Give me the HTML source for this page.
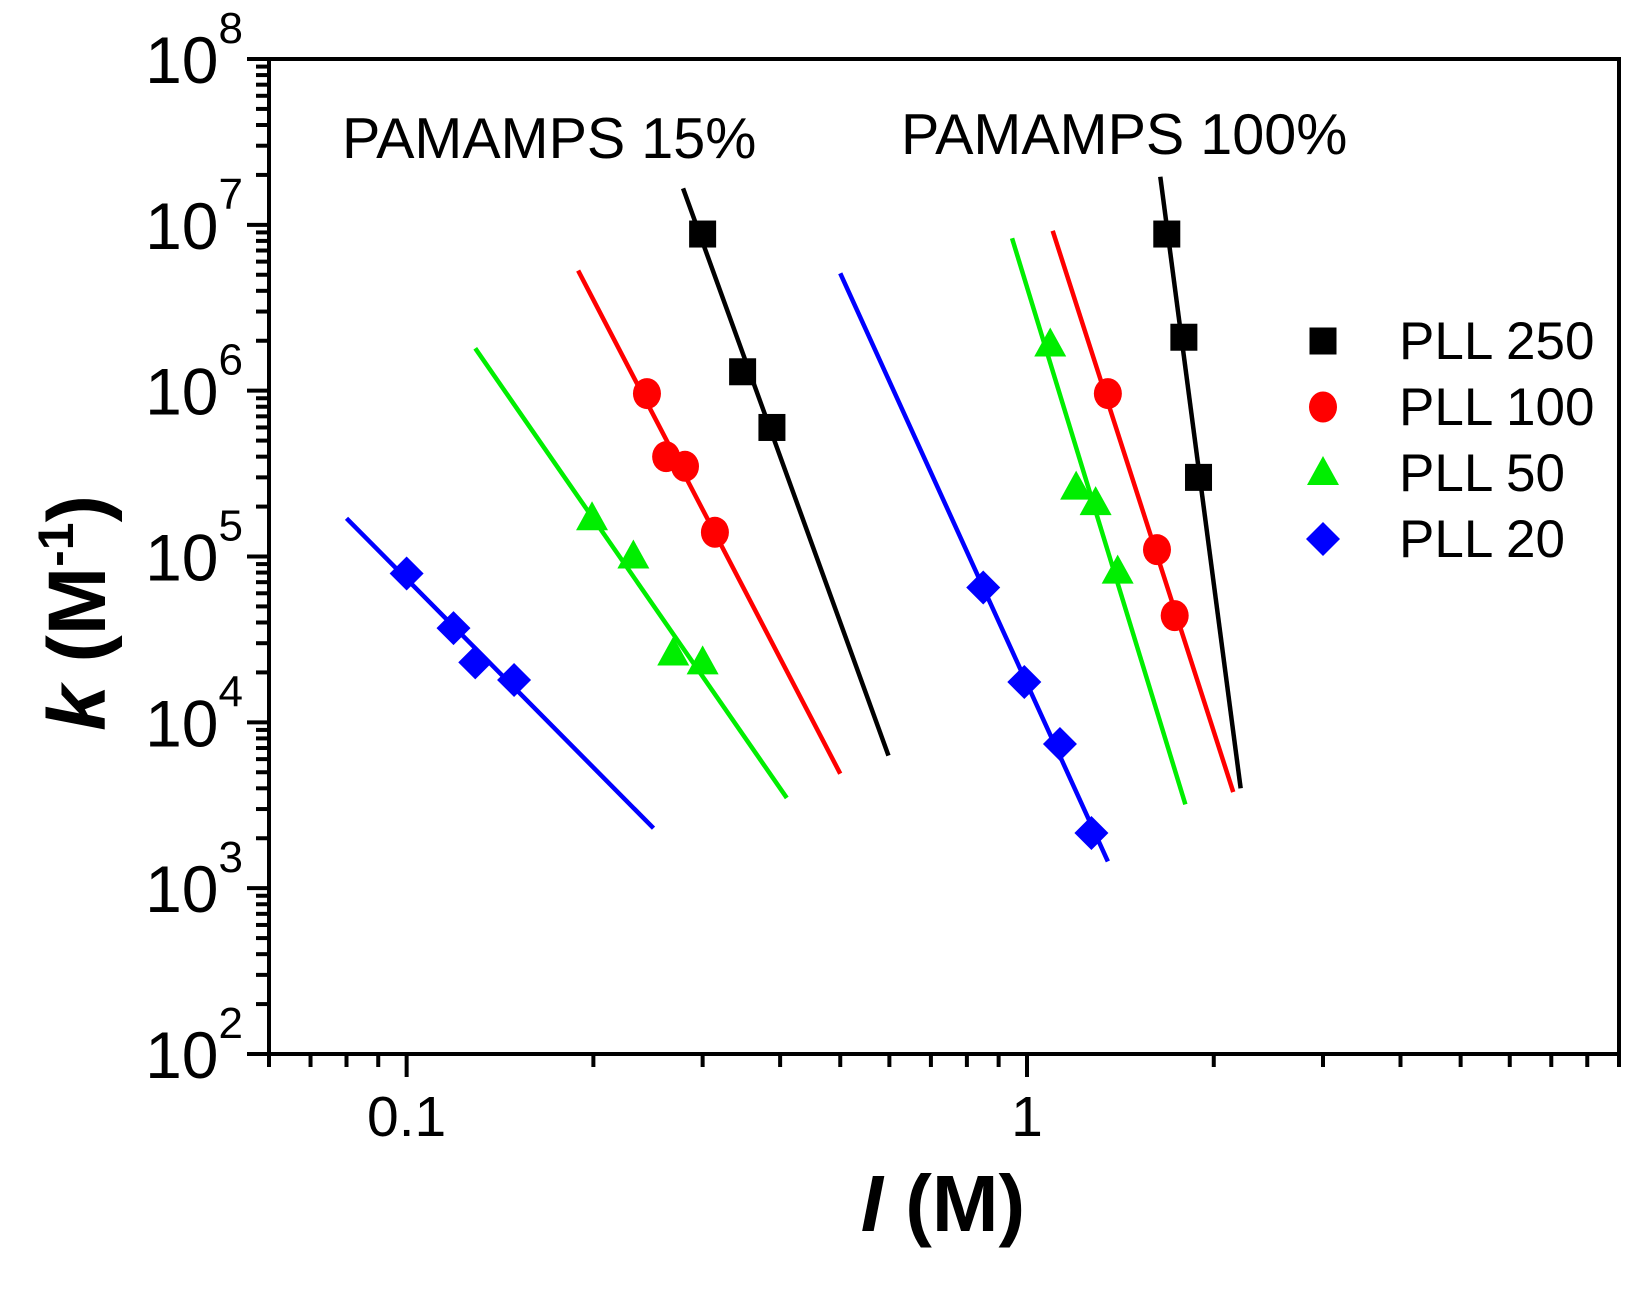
<!DOCTYPE html>
<html><head><meta charset="utf-8">
<style>
html,body{margin:0;padding:0;background:#fff;}
svg{display:block;font-family:"Liberation Sans",Arial,sans-serif;}
</style></head>
<body>
<svg id="chart" width="1634" height="1296" viewBox="0 0 1634 1296" xmlns="http://www.w3.org/2000/svg">
<g id="axes"></g>
<g id="series"></g>
<text x="342" y="158" font-size="57.5">PAMAMPS 15%</text>
<text x="901" y="154" font-size="57.5">PAMAMPS 100%</text>
<text x="943" y="1231" font-size="80" font-weight="bold" text-anchor="middle"><tspan font-style="italic">I</tspan> (M)</text>
<text transform="translate(105,613) rotate(-90)" font-size="82" font-weight="bold" text-anchor="middle"><tspan font-style="italic">k</tspan> (M<tspan font-size="50" dy="-32">-1</tspan><tspan dy="32">)</tspan></text>
<g id="legend"></g>
</svg>
<script>
const NS='http://www.w3.org/2000/svg';
// axis ranges
const xMin=0.06, xMax=9, yMin=1e2, yMax=1e8;
const xMajorTicks=[0.1,1];
const xTickLabels=['0.1','1'];
const yExponents=[2,3,4,5,6,7,8];
const seriesNames=['PLL 250','PLL 100','PLL 50','PLL 20'];
const seriesColors=['#000000','#ff0000','#00ee00','#0000ff'];
const seriesMarkers=['square','circle','triangle','diamond'];
// data points: per series, two groups (15% and 100%)
const pll250X=[0.30,0.348,0.388, 1.68,1.79,1.89];
const pll250K=[8.8e6,1.3e6,6.0e5, 8.8e6,2.1e6,3.0e5];
const pll100X=[0.244,0.262,0.281,0.314, 1.35,1.62,1.73];
const pll100K=[9.6e5,4.0e5,3.5e5,1.4e5, 9.6e5,1.1e5,4.4e4];
const pll50X=[0.199,0.232,0.269,0.30, 1.09,1.20,1.29,1.40];
const pll50K=[1.7e5,1.0e5,2.6e4,2.3e4, 1.9e6,2.6e5,2.1e5,8.1e4];
const pll20X=[0.10,0.119,0.129,0.149, 0.85,0.99,1.13,1.27];
const pll20K=[7.9e4,3.7e4,2.3e4,1.8e4, 6.5e4,1.75e4,7.4e3,2.15e3];
// fit lines: [x start, x end] and [k start, k end]
const fitSeries=[0,0,1,1,2,2,3,3];
const fitX0=[0.279,1.64,0.189,1.10,0.129,0.946,0.08,0.50];
const fitX1=[0.598,2.21,0.50,2.15,0.41,1.80,0.25,1.35];
const fitK0=[1.66e7,1.95e7,5.3e6,9.2e6,1.8e6,8.3e6,1.7e5,5.1e6];
const fitK1=[6.3e3,4.0e3,4.9e3,3.8e3,3.5e3,3.2e3,2.3e3,1.45e3];

const PL=269,PR=1619,PT=59,PB=1054;
function sx(v){return PL+(Math.log10(v)-Math.log10(xMin))/(Math.log10(xMax)-Math.log10(xMin))*(PR-PL);}
function sy(v){return PB-(Math.log10(v)-Math.log10(yMin))/(Math.log10(yMax)-Math.log10(yMin))*(PB-PT);}
function mk(tag,attrs,parent){const e=document.createElementNS(NS,tag);for(const k in attrs)e.setAttribute(k,attrs[k]);parent.appendChild(e);return e;}
const axes=document.getElementById('axes');
const frame=mk('rect',{x:PL,y:PT,width:PR-PL,height:PB-PT,fill:'none',stroke:'#000','stroke-width':4},axes);


// y ticks
for(let e=yExponents[0];e<=yExponents[yExponents.length-1];e++){
  const y=sy(Math.pow(10,e));
  const t=mk('line',{x1:PL-22,x2:PL,y1:y,y2:y,stroke:'#000','stroke-width':4},axes);
  
  
  const lb=mk('text',{x:PL-26,y:y+24,'font-size':66,'text-anchor':'end'},axes);
  lb.textContent='10';
  const sp=mk('tspan',{'font-size':44,dy:-40},lb);
  sp.textContent=String(e);
  
  
  if(e<yExponents[yExponents.length-1]){
    for(let m=2;m<=9;m++){
      const ym=sy(m*Math.pow(10,e));
      const mt=mk('line',{x1:PL-13,x2:PL,y1:ym,y2:ym,stroke:'#000','stroke-width':4},axes);
      
      
    }
  }
}
// x ticks
[0.01,0.1,1].forEach(dec=>{
  for(let m=1;m<=9;m++){
    const v=m*dec; if(v<xMin-1e-9||v>xMax+1e-9) continue;
    const x=sx(v); const major=(m===1);
    const t=mk('line',{x1:x,x2:x,y1:PB,y2:PB+(major?23:13),stroke:'#000','stroke-width':4},axes);
    
    
  }
});
xMajorTicks.forEach((v,i)=>{
  const lb=mk('text',{x:sx(v),y:1136,'font-size':57,'text-anchor':'middle'},axes);
  lb.textContent=xTickLabels[i];
  
  
});
function marker(type,x,y,color,parent){
  let e;
  if(type==='square') e=mk('rect',{x:x-13.5,y:y-13.5,width:27,height:27,fill:color},parent);
  else if(type==='circle') e=mk('ellipse',{cx:x,cy:y,rx:14,ry:15.5,fill:color},parent);
  else if(type==='triangle') e=mk('polygon',{points:`${x},${y-17} ${x-16},${y+12} ${x+16},${y+12}`,fill:color},parent);
  else e=mk('polygon',{points:`${x},${y-17} ${x+17},${y} ${x},${y+17} ${x-17},${y}`,fill:color},parent);
  return e;
}
const ser=document.getElementById('series');
for(let i=0;i<fitX0.length;i++){
  const s=fitSeries[i];
  const l=mk('line',{x1:sx(fitX0[i]),y1:sy(fitK0[i]),x2:sx(fitX1[i]),y2:sy(fitK1[i]),stroke:seriesColors[s],'stroke-width':4.5},ser);
  
  
}
const allX=[pll250X,pll100X,pll50X,pll20X], allK=[pll250K,pll100K,pll50K,pll20K];
allX.forEach((xs,s)=>{
  xs.forEach((xv,j)=>{
    const m=marker(seriesMarkers[s],sx(xv),sy(allK[s][j]),seriesColors[s],ser);
    
    
  });
});
const leg=document.getElementById('legend');
seriesNames.forEach((n,i)=>{
  const y=341+i*66;
  const m=marker(seriesMarkers[i],1323,y,seriesColors[i],leg);
  
  
  const t=mk('text',{x:1399,y:y+18,'font-size':53},leg);
  t.textContent=n;
  
  
});
</script>
</body></html>
